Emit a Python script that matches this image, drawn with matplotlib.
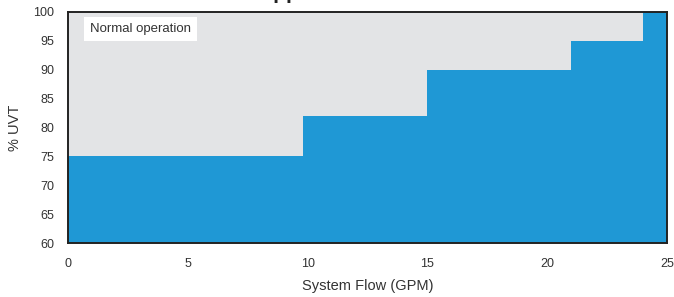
import matplotlib
matplotlib.use("Agg")
import matplotlib.pyplot as plt

# Data
flow_edges = [0, 9.8, 15, 21, 24, 25]
uvt_levels = [75, 82, 90, 95, 100]
x_ticks = [0, 5, 10, 15, 20, 25]
y_ticks = [60, 65, 70, 75, 80, 85, 90, 95, 100]

plt.rcParams['font.family'] = ['Liberation Sans', 'DejaVu Sans']

fig = plt.figure(figsize=(6.74, 2.97), dpi=100)
ax = fig.add_axes([68/674, 1 - 243/297, (667-68)/674, (243-12)/297])
ax.set_facecolor('#e3e4e6')

xs = []
ys = []
for i, lvl in enumerate(uvt_levels):
    xs += [flow_edges[i], flow_edges[i+1]]
    ys += [lvl, lvl]
ax.fill_between(xs, 60, ys, color='#1f98d5', linewidth=0)

ax.set_xlim(0, 25)
ax.set_ylim(60, 100)
ax.set_xticks(x_ticks)
ax.set_yticks(y_ticks)
ax.tick_params(length=0, labelsize=9, colors='#333333')
ax.tick_params(axis='y', pad=10)
ax.tick_params(axis='x', pad=11)
for s in ax.spines.values():
    s.set_linewidth(1.4)
    s.set_color('#222222')

ax.set_xlabel('System Flow (GPM)', fontsize=10.5, color='#333333', labelpad=6)
ax.set_ylabel('% UVT', fontsize=10.5, color='#333333', labelpad=8)

ax.text(0.9, 97.1, 'Normal operation', fontsize=9.5, color='#333333',
        ha='left', va='center',
        bbox=dict(facecolor='white', edgecolor='none', boxstyle='square,pad=0.45'))

fig.text(258/674, 1 + 1/297, 'Application Chart', fontsize=15, fontweight='bold',
         ha='left', va='baseline', color='#222222')

fig.savefig('out.png', dpi=100)
